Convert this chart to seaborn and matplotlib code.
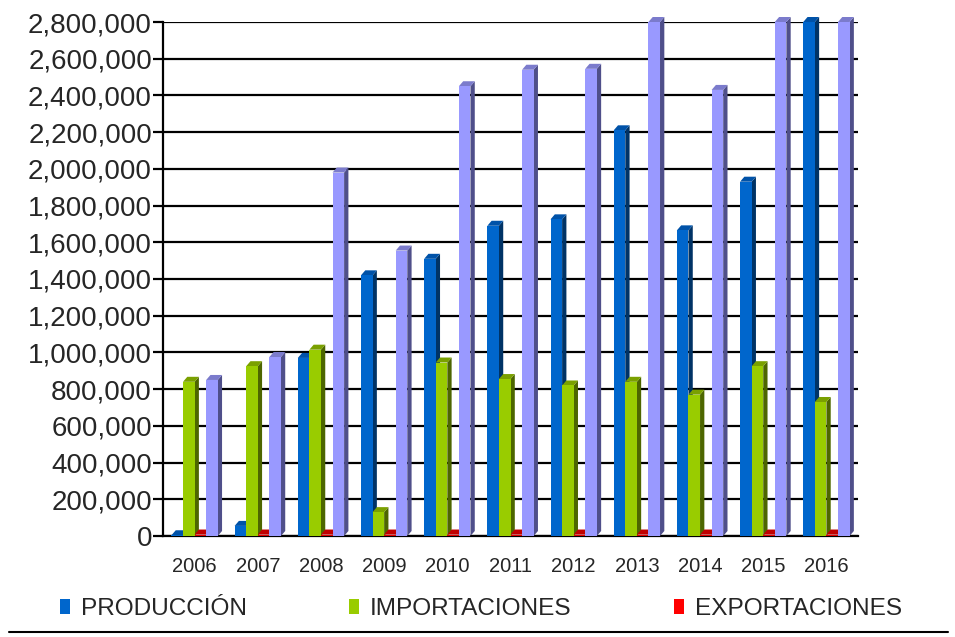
import matplotlib
matplotlib.use("Agg")
import matplotlib.pyplot as plt
import seaborn as sns
import pandas as pd
from matplotlib.patches import Polygon, Patch
from matplotlib.lines import Line2D
from matplotlib.ticker import FuncFormatter, MultipleLocator

# ---------------- data ----------------
years = ["2006", "2007", "2008", "2009", "2010", "2011", "2012", "2013", "2014", "2015", "2016"]
produccion = [4000, 55000, 970000, 1420000, 1510000, 1690000, 1725000, 2210000, 1665000, 1930000, 2800000]
importaciones = [840000, 925000, 1015000, 130000, 945000, 855000, 820000, 840000, 770000, 925000, 730000]
exportaciones = [8000, 8000, 8000, 8000, 8000, 8000, 8000, 8000, 8000, 8000, 8000]
consumo = [850000, 975000, 1980000, 1555000, 2450000, 2540000, 2545000, 2800000, 2430000, 2800000, 2800000]
series_names = ["PRODUCCIÓN", "IMPORTACIONES", "EXPORTACIONES", "CONSUMO"]
legend_names = ["PRODUCCIÓN", "IMPORTACIONES", "EXPORTACIONES"]

front_colors = ["#0066CC", "#99CC00", "#E00000", "#9999FF"]
side_colors = ["#003366", "#4D6600", "#800000", "#4F4F8A"]
top_colors = ["#0052A8", "#7AA000", "#C00000", "#7B7BCC"]
legend_colors = ["#0066CC", "#99CC00", "#FF0000"]

rows = []
for name, vals in zip(series_names, [produccion, importaciones, exportaciones, consumo]):
    for y, v in zip(years, vals):
        rows.append({"year": y, "serie": name, "valor": v})
df = pd.DataFrame(rows)

# ---------------- style ----------------
sns.set_style("white")
plt.rcParams["font.family"] = ["Liberation Sans", "DejaVu Sans"]

W, H, DPI = 955, 637, 100
fig = plt.figure(figsize=(W / DPI, H / DPI), dpi=DPI)
ax = fig.add_axes([163 / W, 1 - 536 / H, (858 - 163) / W, (536 - 22) / H])

sns.barplot(data=df, x="year", y="valor", hue="serie", hue_order=series_names,
            palette=front_colors, width=0.733, saturation=1, legend=False,
            linewidth=0, ax=ax, errorbar=None)

ax.set_xlim(-0.5, 10.5)
ax.set_ylim(0, 2800000)

# 3D-like faces built from the drawn bars
px_x = 1.0 / 63.17          # data units per pixel (x)
px_y = 2800000 / 514.0      # data units per pixel (y)
dx = 4.3 * px_x
dy = 5.0 * px_y
nyears = len(years)
for i, p in enumerate(ax.patches):
    k = i // nyears
    x0 = p.get_x()
    w = p.get_width()
    h = p.get_height()
    x1 = x0 + w
    base = 3 + k * 0.1
    p.set_zorder(base + 0.05)
    side = Polygon([(x1, 0), (x1 + dx, dy), (x1 + dx, h + dy), (x1, h)], closed=True,
                   facecolor=side_colors[k], edgecolor="none", zorder=base, clip_on=False)
    top = Polygon([(x0, h), (x0 + dx, h + dy), (x1 + dx, h + dy), (x1, h)], closed=True,
                  facecolor=top_colors[k], edgecolor="none", zorder=base, clip_on=False)
    ax.add_patch(side)
    ax.add_patch(top)

# axes styling
ax.yaxis.set_major_locator(MultipleLocator(200000))
ax.yaxis.set_major_formatter(FuncFormatter(lambda v, pos: f"{v:,.0f}"))
ax.grid(axis="y", color="black", linewidth=1.6, zorder=1)
ax.grid(axis="x", visible=False)
ax.set_axisbelow(True)
for s in ["top", "right"]:
    ax.spines[s].set_visible(False)
ax.spines["left"].set_color("black")
ax.spines["left"].set_linewidth(1.6)
ax.spines["bottom"].set_color("black")
ax.spines["bottom"].set_linewidth(1.6)
ax.tick_params(axis="y", which="major", length=7, width=1.6, color="black",
               labelsize=20, pad=1, left=True)
ax.tick_params(axis="x", length=0, labelsize=14.5, pad=15)
ax.set_xlabel("")
ax.set_ylabel("")

# legend
handles = [Patch(facecolor=c, edgecolor="none") for c in legend_colors]
fig.legend(handles, legend_names, loc="center left", bbox_to_anchor=(60 / W, 1 - 609 / H),
           ncol=3, frameon=False, fontsize=17.6, handlelength=0.42, handleheight=0.6,
           handletextpad=0.42, columnspacing=4.2, borderpad=0, borderaxespad=0)

# bottom rule
fig.add_artist(Line2D([9 / W, 948 / W], [1 - 632 / H, 1 - 632 / H], color="black", linewidth=1.5))

fig.savefig("out.png", dpi=DPI)
